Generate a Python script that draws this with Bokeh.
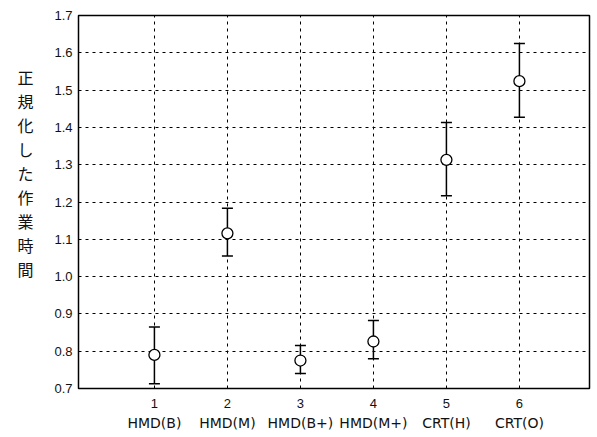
from bokeh.plotting import figure
from bokeh.models import (ColumnDataSource, Whisker, TeeHead, LinearAxis, FixedTicker,
                          PrintfTickFormatter, Range1d)
from bokeh.embed import file_html
from bokeh.resources import INLINE

# data
conditions = [1, 2, 3, 4, 5, 6]
condition_names = ["HMD(B)", "HMD(M)", "HMD(B+)", "HMD(M+)", "CRT(H)", "CRT(O)"]
means = [0.79, 1.116, 0.775, 0.826, 1.313, 1.524]
upper = [0.865, 1.183, 0.815, 0.882, 1.413, 1.625]
lower = [0.713, 1.055, 0.740, 0.780, 1.217, 1.427]
y_ticks = [0.7, 0.8, 0.9, 1.0, 1.1, 1.2, 1.3, 1.4, 1.5, 1.6, 1.7]
y_label_text = "正規化した作業時間"

src = ColumnDataSource(dict(x=conditions, m=means, up=upper, lo=lower))

p = figure(width=595, height=436, output_backend="svg", toolbar_location=None,
           x_range=Range1d(-0.04, 6.96), y_range=Range1d(0.7, 1.7),
           min_border_left=78, min_border_right=6, min_border_top=15, min_border_bottom=48,
           x_axis_location=None, y_axis_location=None)
p.outline_line_color = "black"
p.outline_line_width = 1.5
p.background_fill_color = "white"
p.border_fill_color = "white"

def bare(ax):
    ax.axis_line_color = None
    ax.major_tick_line_color = None
    ax.minor_tick_line_color = None
    ax.major_tick_out = 0
    ax.major_tick_in = 0
    ax.minor_tick_out = 0
    ax.minor_tick_in = 0
    ax.major_label_text_color = "#111111"

# axes
yax = LinearAxis(ticker=FixedTicker(ticks=y_ticks), formatter=PrintfTickFormatter(format="%.1f"))
bare(yax)
yax.major_label_text_font = "Liberation Sans"
yax.major_label_text_font_size = "13px"
yax.major_label_standoff = 6
p.add_layout(yax, "left")

# stacked vertical axis title as a single multi-line tick label
label_pos = 1.278
yax2 = LinearAxis(ticker=FixedTicker(ticks=[label_pos]),
                  major_label_overrides={label_pos: "\n".join(y_label_text)})
bare(yax2)
yax2.major_label_text_font = "Noto Sans CJK JP"
yax2.major_label_text_font_size = "16px"
yax2.major_label_text_line_height = 1.0
yax2.major_label_text_align = "center"
yax2.major_label_standoff = 18
p.add_layout(yax2, "left")

xax = LinearAxis(ticker=FixedTicker(ticks=conditions))
bare(xax)
xax.major_label_text_font = "Liberation Sans"
xax.major_label_text_font_size = "13px"
xax.major_label_standoff = 10
p.add_layout(xax, "below")

xax2 = LinearAxis(ticker=FixedTicker(ticks=conditions),
                  major_label_overrides={c: n for c, n in zip(conditions, condition_names)})
bare(xax2)
xax2.major_label_text_font = "DejaVu Sans"
xax2.major_label_text_font_size = "14px"
xax2.major_label_standoff = 4
p.add_layout(xax2, "below")

# grids
p.xgrid.ticker = FixedTicker(ticks=conditions)
p.ygrid.ticker = FixedTicker(ticks=y_ticks[1:-1])
for g in (p.xgrid, p.ygrid):
    g.grid_line_color = "black"
    g.grid_line_dash = "3 4"
    g.grid_line_width = 1

# error bars
w = Whisker(source=src, base="x", upper="up", lower="lo", line_color="black", line_width=1.5,
            upper_head=TeeHead(size=11, line_color="black", line_width=1.5),
            lower_head=TeeHead(size=11, line_color="black", line_width=1.5))
p.add_layout(w)
p.scatter("x", "m", source=src, size=11, fill_color="white", line_color="black", line_width=1.3)

open("out.html", "w").write(file_html(p, INLINE))
